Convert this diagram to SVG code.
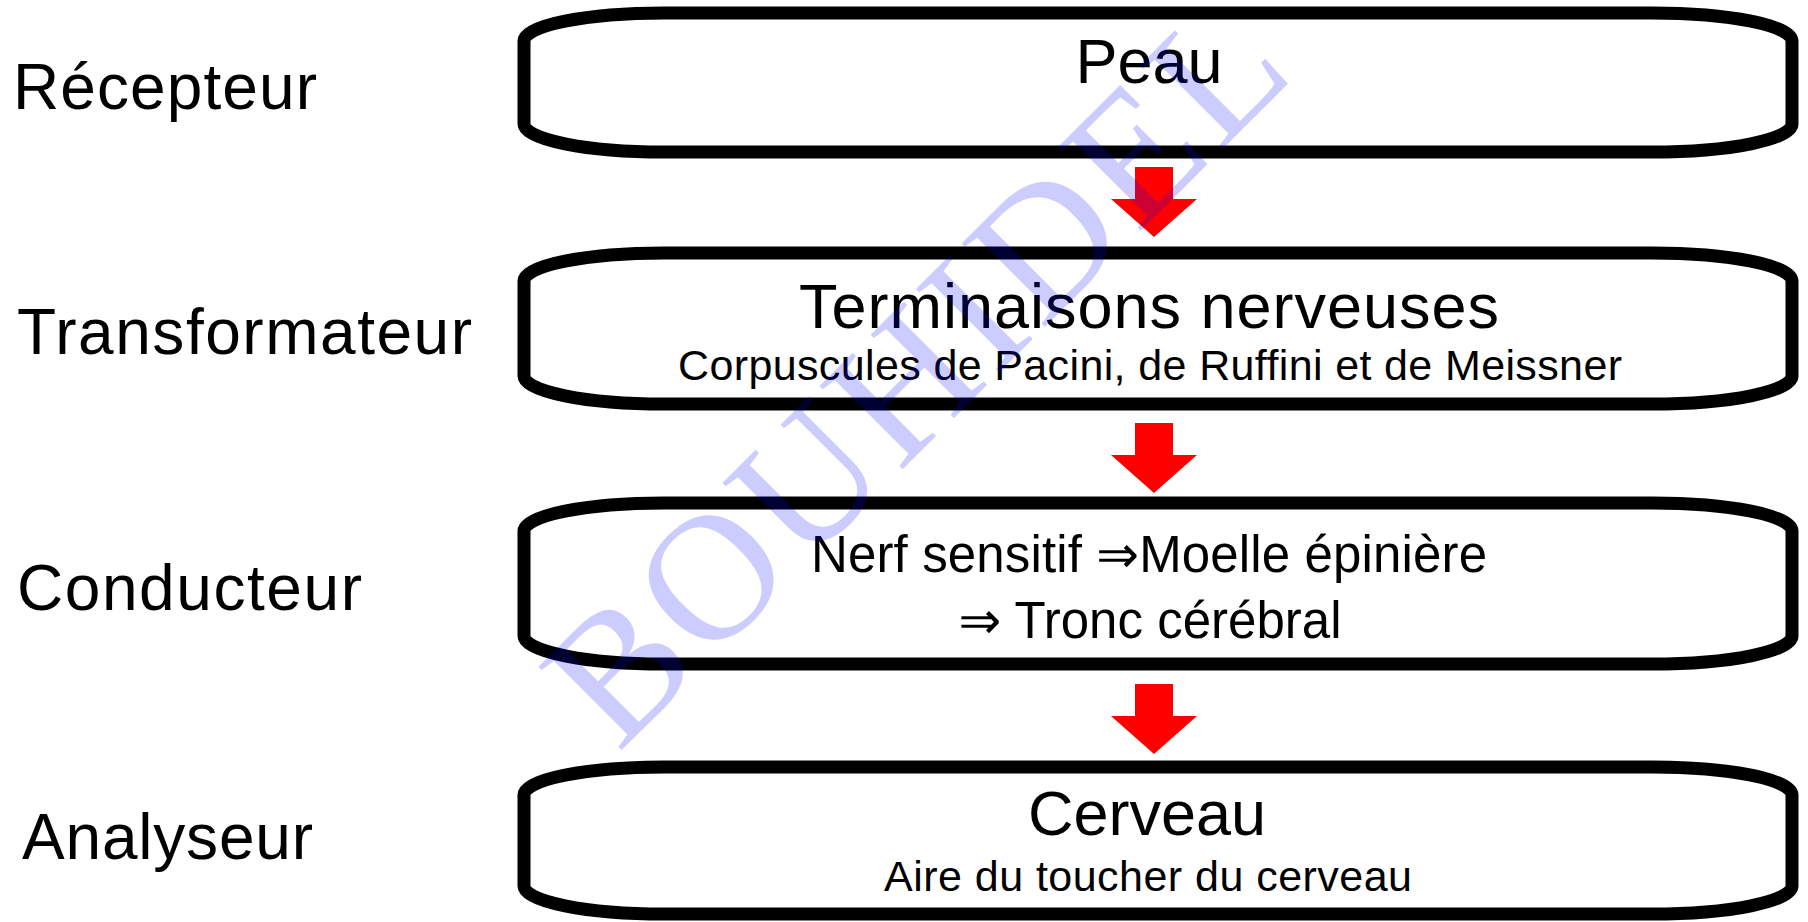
<svg xmlns="http://www.w3.org/2000/svg" width="1808" height="922" viewBox="0 0 1808 922">
  <defs>
    <style>
      .box { fill: #ffffff; stroke: #000000; stroke-width: 13; }
      .lbl { font-family: "Liberation Sans", Arial, sans-serif; font-size: 64px; fill: #000000; }
      .big { font-family: "Liberation Sans", Arial, sans-serif; font-size: 63px; fill: #000000; text-anchor: middle; }
      .mid { font-family: "Liberation Sans", Arial, "DejaVu Sans", sans-serif; font-size: 51px; fill: #000000; text-anchor: middle; }
      .sub { font-family: "Liberation Sans", Arial, sans-serif; font-size: 43px; fill: #000000; text-anchor: middle; }
      .arrow { fill: #ff0000; }
      .wm { font-family: "Liberation Serif", "Times New Roman", serif; font-size: 180px; fill: #0000ff; fill-opacity: 0.2; text-anchor: middle; }
    </style>
    <path id="arrowShape" d="M -19 0 H 19 V 32 H 43 L 0 70 L -43 32 H -19 Z"/>
  </defs>
  <rect width="1808" height="922" fill="#ffffff"/>

  <g id="labels">
    <text id="lbl-recepteur" class="lbl" x="13" y="109" textLength="304">Récepteur</text>
    <text id="lbl-transformateur" class="lbl" x="17" y="354" textLength="455">Transformateur</text>
    <text id="lbl-conducteur" class="lbl" x="17" y="610" textLength="345">Conducteur</text>
    <text id="lbl-analyseur" class="lbl" x="22" y="859" textLength="291">Analyseur</text>
  </g>

  <g id="node-peau">
    <rect class="box" x="524" y="13" width="1268" height="139" rx="140" ry="28"/>
    <text class="big" x="1149" y="83">Peau</text>
  </g>

  <g id="node-terminaisons">
    <rect class="box" x="524" y="253" width="1268" height="151" rx="140" ry="28"/>
    <text class="big" x="1149" y="328" font-size="64" textLength="700">Terminaisons nerveuses</text>
    <text class="sub" x="1150" y="380" textLength="944">Corpuscules de Pacini, de Ruffini et de Meissner</text>
  </g>

  <g id="node-conducteur">
    <rect class="box" x="524" y="503" width="1268" height="161" rx="140" ry="28"/>
    <text class="mid" x="1149" y="572" textLength="676">Nerf sensitif ⇒Moelle épinière</text>
    <text class="mid" x="1150" y="638" textLength="383">⇒ Tronc cérébral</text>
  </g>

  <g id="node-cerveau">
    <rect class="box" x="524" y="767" width="1268" height="147" rx="140" ry="28"/>
    <text class="big" x="1147" y="835">Cerveau</text>
    <text class="sub" x="1148" y="891" textLength="528">Aire du toucher du cerveau</text>
  </g>

  <g id="connectors">
    <use class="arrow" href="#arrowShape" x="1154" y="167"/>
    <use class="arrow" href="#arrowShape" x="1154" y="423"/>
    <use class="arrow" href="#arrowShape" x="1154" y="684"/>
  </g>

  <text class="wm" transform="translate(915,372) rotate(-45)" x="0" y="60" textLength="960">BOUHIDEL</text>
</svg>
